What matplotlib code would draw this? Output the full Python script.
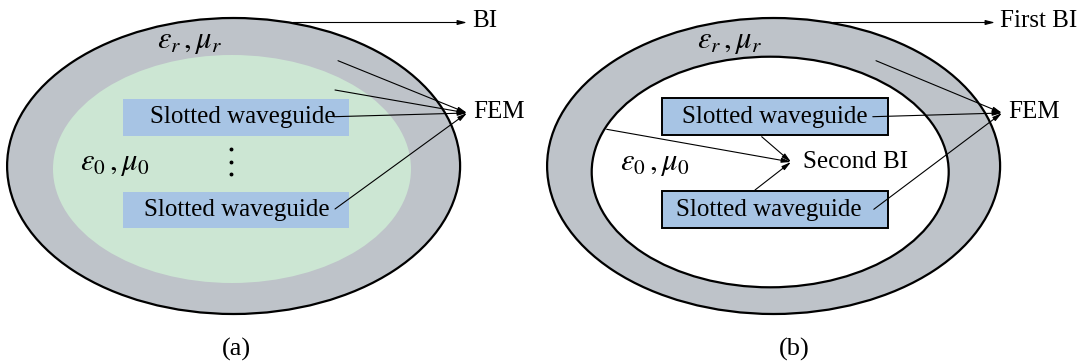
import matplotlib.pyplot as plt
from matplotlib.patches import Ellipse, Rectangle

# Panel labels and texts
panel_labels = ["(a)", "(b)"]
box_text = "Slotted waveguide"
outer_material = r"$\varepsilon_r\,,\mu_r$"
inner_material = r"$\varepsilon_0\,,\mu_0$"
bi_labels = ["BI", "First BI"]

# Colours
gray = "#BEC3C9"
green = "#CCE6D3"
blue = "#A7C4E4"

plt.rcParams["font.family"] = "Liberation Serif"
plt.rcParams["mathtext.fontset"] = "stix"

fig = plt.figure(figsize=(10.83, 3.62), dpi=100)
ax = fig.add_axes([0, 0, 1, 1])
ax.set_xlim(0, 1083)
ax.set_ylim(362, 0)
ax.axis("off")

fs = 18
fs_math = 22
arrow = dict(arrowstyle="-|>,head_length=0.55,head_width=0.14", color="black",
             lw=0.8, shrinkA=0, shrinkB=0)


def connect(x0, y0, x1, y1):
    ax.annotate("", xy=(x1, y1), xytext=(x0, y0), arrowprops=arrow)


for i, dx in enumerate([0, 540]):
    # outer ellipse
    ax.add_patch(Ellipse((233.6 + dx, 166), 453, 296, facecolor=gray,
                         edgecolor="black", lw=1.6))
    if i == 0:
        ax.add_patch(Ellipse((232, 169), 358, 228, facecolor=green,
                             edgecolor="none"))
        boxes = [(123.3, 99.3, 226, 36.4), (123.3, 192.3, 226, 36)]
        texts = [(242.7, 117), (236.5, 210)]
        for (bx, by, bw, bh), (tx, ty) in zip(boxes, texts):
            ax.add_patch(Rectangle((bx, by), bw, bh, facecolor=blue,
                                   edgecolor="none"))
            ax.text(tx, ty, box_text, fontsize=fs, ha="center", va="center")
        for y in [149.3, 161.7, 174]:
            ax.plot(230.7, y, "o", color="black", ms=1.8)
        fem = (467, 113)
        starts = [(338, 60.7), (335, 90), (334, 116.7), (335, 209)]
        bi_end = 467
    else:
        ax.add_patch(Ellipse((770.2, 172), 357, 230.6, facecolor="white",
                             edgecolor="black", lw=1.6))
        boxes = [(661.7, 98.3, 226.6, 36.7), (661.7, 191, 226.6, 37.3)]
        texts = [(774.5, 117), (768.5, 210)]
        for (bx, by, bw, bh), (tx, ty) in zip(boxes, texts):
            ax.add_patch(Rectangle((bx, by), bw, bh, facecolor=blue,
                                   edgecolor="black", lw=1.4))
            ax.text(tx, ty, box_text, fontsize=fs, ha="center", va="center")
        sbi = (791, 162)
        for sx, sy in [(606.7, 129.3), (761.7, 136.7), (755, 190)]:
            connect(sx, sy, *sbi)
        ax.text(803.3, 162, "Second BI", fontsize=fs, ha="left", va="center")
        fem = (1002, 113)
        starts = [(876, 60.7), (872.8, 116.7), (873.8, 209.3)]
        bi_end = 995

    for sx, sy in starts:
        connect(sx, sy, *fem)
    ax.text(fem[0] + 6, fem[1] - 1, "FEM", fontsize=fs, ha="left", va="center")

    # boundary integral arrow
    connect(293 + dx, 22.5, bi_end, 22.5)
    ax.text(bi_end + 5, 21, bi_labels[i], fontsize=fs, ha="left", va="center")

    ax.text(157 + dx, 48, outer_material, fontsize=fs_math, ha="left",
            va="baseline")
    ax.text(80 + dx, 170, inner_material, fontsize=fs_math, ha="left",
            va="baseline")
    ax.text(236.4 + dx * 1.033, 349, panel_labels[i], fontsize=19,
            ha="center", va="center")

plt.savefig("out.png", dpi=100)
